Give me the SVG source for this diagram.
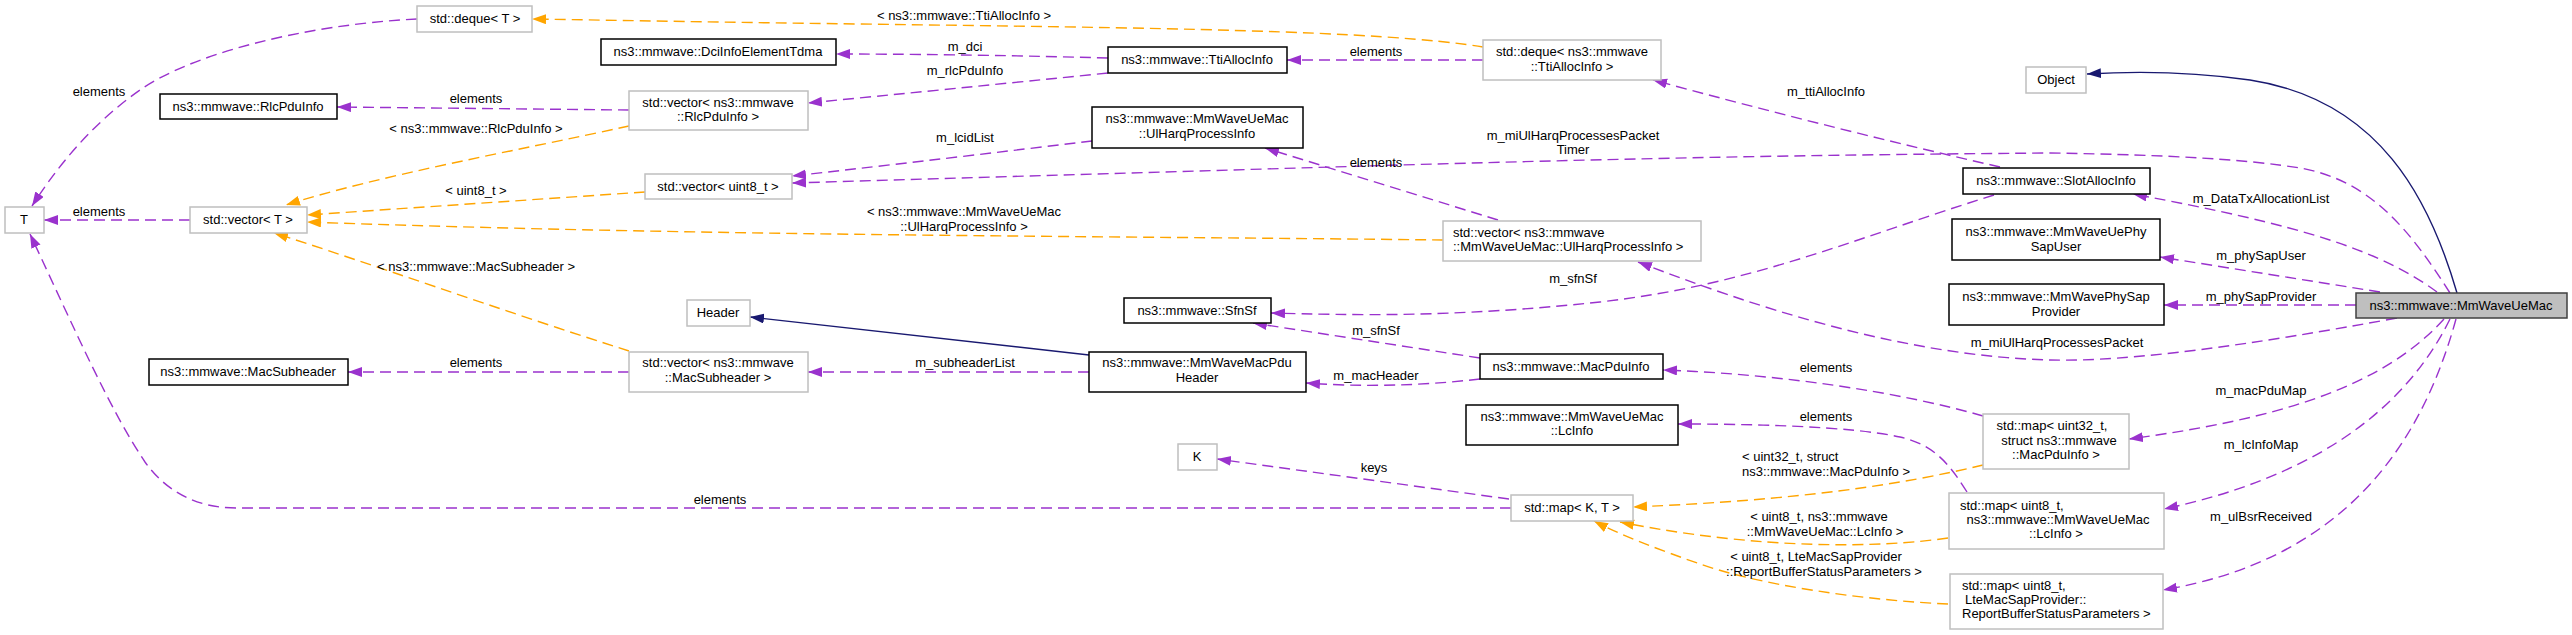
<svg xmlns="http://www.w3.org/2000/svg" width="2572" height="635" viewBox="0 0 2572 635">
<style>
text{font-family:"Liberation Sans",Arial,sans-serif;font-size:13px;fill:#000}
.n text{text-anchor:middle}
.b{fill:#fff;stroke:#000;stroke-width:1.5}
.g{fill:#fff;stroke:#bfbfbf;stroke-width:1.5}
.m{fill:#bfbfbf;stroke:#404040;stroke-width:1.5}
.p{fill:none;stroke:#9a32cd;stroke-width:1.4;stroke-dasharray:11,6;marker-end:url(#ap)}
.o{fill:none;stroke:#ffa500;stroke-width:1.4;stroke-dasharray:11,6;marker-end:url(#ao)}
.s{fill:none;stroke:#191970;stroke-width:1.4;marker-end:url(#as)}
.l text{text-anchor:middle}
</style>
<defs>
<marker id="ap" markerUnits="userSpaceOnUse" markerWidth="15" markerHeight="11" refX="14" refY="5" orient="auto"><path d="M0,0 L14,5 L0,10 z" fill="#9a32cd"/></marker>
<marker id="ao" markerUnits="userSpaceOnUse" markerWidth="15" markerHeight="11" refX="14" refY="5" orient="auto"><path d="M0,0 L14,5 L0,10 z" fill="#ffa500"/></marker>
<marker id="as" markerUnits="userSpaceOnUse" markerWidth="15" markerHeight="11" refX="14" refY="5" orient="auto"><path d="M0,0 L14,5 L0,10 z" fill="#191970"/></marker>
</defs>
<rect width="2572" height="635" fill="#fff"/>
<g id="connectors">
<path class="p" d="M417,19 C300,25 190,55 140,90 C90,125 55,170 32,206"/>
<path class="p" d="M190,220 L44,220"/>
<path class="p" d="M1511,508 L236,508 C195,508 165,490 145,462 C110,410 75,330 30,234"/>
<path class="p" d="M1509,499 L1217,459"/>
<path class="p" d="M629,110 L337,107"/>
<path class="o" d="M629,126 C520,150 380,175 286,205"/>
<path class="o" d="M645,192 L307,215"/>
<path class="o" d="M1443,240 C1100,236 700,236 307,222"/>
<path class="o" d="M629,351 C500,310 360,260 274,233"/>
<path class="p" d="M629,372 L348,372"/>
<path class="o" d="M1483,47 C1380,30 1150,28 860,24 C700,22 600,20 532,19"/>
<path class="p" d="M1483,60 L1287,60"/>
<path class="p" d="M1108,58 C1000,55 900,54 836,54"/>
<path class="p" d="M1108,73 C1000,84 900,94 808,103"/>
<path class="p" d="M1092,141 C1000,152 900,164 792,176"/>
<path class="p" d="M2450,293 C2410,230 2370,180 2300,168 C2250,160 2180,155 2050,153 C1800,155 1650,158 1400,165 L792,183"/>
<path class="p" d="M1498,220 L1265,148"/>
<path class="p" d="M2000,167 Q1830,128 1653,80"/>
<path class="p" d="M2437,292 C2380,250 2300,225 2133,194"/>
<path class="p" d="M1994,195 C1850,240 1750,285 1600,302 C1450,318 1350,315 1271,313"/>
<path class="p" d="M2380,292 L2160,257"/>
<path class="p" d="M2356,305 L2164,305"/>
<path class="p" d="M2397,318 C2250,345 2130,362 2050,360 C1900,356 1750,305 1638,262"/>
<path class="p" d="M1480,358 L1253,323"/>
<path class="p" d="M1480,379 C1420,386 1360,387 1306,383"/>
<path class="s" d="M1089,355 L750,317"/>
<path class="p" d="M1089,372 L808,372"/>
<path class="p" d="M1983,416 C1900,392 1780,374 1663,370"/>
<path class="p" d="M1967,492 C1950,465 1935,445 1900,437 C1850,426 1750,424 1678,424"/>
<path class="o" d="M1983,465 C1900,485 1800,500 1633,507"/>
<path class="o" d="M1948,538 C1880,548 1760,550 1620,522"/>
<path class="o" d="M1948,604 C1860,600 1760,585 1700,564 C1660,550 1620,535 1594,521"/>
<path class="p" d="M2444,319 C2380,390 2270,420 2129,439"/>
<path class="p" d="M2450,319 C2400,420 2300,480 2164,509"/>
<path class="p" d="M2456,319 C2420,450 2340,560 2163,590"/>
<path class="s" d="M2457,293 C2430,200 2380,100 2250,80 C2180,70 2120,72 2087,74"/>
<g class="l">
<text x="99" y="96">elements</text>
<text x="99" y="216">elements</text>
<text x="720" y="504">elements</text>
<text x="1374" y="472">keys</text>
<text x="476" y="103">elements</text>
<text x="476" y="133">&lt; ns3::mmwave::RlcPduInfo &gt;</text>
<text x="476" y="195">&lt; uint8_t &gt;</text>
<text x="964" y="216">&lt; ns3::mmwave::MmWaveUeMac</text>
<text x="964" y="231">::UlHarqProcessInfo &gt;</text>
<text x="476" y="271">&lt; ns3::mmwave::MacSubheader &gt;</text>
<text x="476" y="367">elements</text>
<text x="964" y="20">&lt; ns3::mmwave::TtiAllocInfo &gt;</text>
<text x="1376" y="56">elements</text>
<text x="965" y="51">m_dci</text>
<text x="965" y="75">m_rlcPduInfo</text>
<text x="965" y="142">m_lcidList</text>
<text x="1573" y="140">m_miUlHarqProcessesPacket</text>
<text x="1573" y="154">Timer</text>
<text x="1376" y="167">elements</text>
<text x="1826" y="96">m_ttiAllocInfo</text>
<text x="2261" y="203">m_DataTxAllocationList</text>
<text x="1573" y="283">m_sfnSf</text>
<text x="2261" y="260">m_phySapUser</text>
<text x="2261" y="301">m_phySapProvider</text>
<text x="2057" y="347">m_miUlHarqProcessesPacket</text>
<text x="1376" y="335">m_sfnSf</text>
<text x="1376" y="380">m_macHeader</text>
<text x="965" y="367">m_subheaderList</text>
<text x="1826" y="372">elements</text>
<text x="1826" y="421">elements</text>
<text x="1742" y="461" style="text-anchor:start">&lt; uint32_t, struct</text>
<text x="1742" y="476" style="text-anchor:start">ns3::mmwave::MacPduInfo &gt;</text>
<text x="1819" y="521">&lt; uint8_t, ns3::mmwave</text>
<text x="1825" y="536">::MmWaveUeMac::LcInfo &gt;</text>
<text x="1816" y="561">&lt; uint8_t, LteMacSapProvider</text>
<text x="1824" y="576">::ReportBufferStatusParameters &gt;</text>
<text x="2261" y="395">m_macPduMap</text>
<text x="2261" y="449">m_lcInfoMap</text>
<text x="2261" y="521">m_ulBsrReceived</text>
</g>
</g>
<g id="node_dequeT" class="n"><rect class="g" x="417" y="6" width="115" height="26"/><text x="475" y="23">std::deque&lt; T &gt;</text></g>
<g id="node_dci" class="n"><rect class="b" x="601" y="39" width="235" height="26"/><text x="718" y="56">ns3::mmwave::DciInfoElementTdma</text></g>
<g id="node_rlc" class="n"><rect class="b" x="160" y="94" width="177" height="25"/><text x="248" y="111">ns3::mmwave::RlcPduInfo</text></g>
<g id="node_vecRlc" class="n"><rect class="g" x="629" y="91" width="179" height="39"/><text x="718" y="107">std::vector&lt; ns3::mmwave</text><text x="718" y="121">::RlcPduInfo &gt;</text></g>
<g id="node_vecU8" class="n"><rect class="g" x="645" y="174" width="147" height="25"/><text x="718" y="191">std::vector&lt; uint8_t &gt;</text></g>
<g id="node_T" class="n"><rect class="g" x="5" y="207" width="39" height="26"/><text x="24" y="224">T</text></g>
<g id="node_vecT" class="n"><rect class="g" x="190" y="207" width="117" height="26"/><text x="248" y="224">std::vector&lt; T &gt;</text></g>
<g id="node_header" class="n"><rect class="g" x="687" y="300" width="63" height="26"/><text x="718" y="317">Header</text></g>
<g id="node_macsub" class="n"><rect class="b" x="149" y="359" width="199" height="26"/><text x="248" y="376">ns3::mmwave::MacSubheader</text></g>
<g id="node_vecMacSub" class="n"><rect class="g" x="629" y="352" width="179" height="40"/><text x="718" y="367">std::vector&lt; ns3::mmwave</text><text x="718" y="382">::MacSubheader &gt;</text></g>
<g id="node_tti" class="n"><rect class="b" x="1108" y="47" width="179" height="26"/><text x="1197" y="64">ns3::mmwave::TtiAllocInfo</text></g>
<g id="node_dequeTti" class="n"><rect class="g" x="1483" y="40" width="178" height="40"/><text x="1572" y="56">std::deque&lt; ns3::mmwave</text><text x="1572" y="71">::TtiAllocInfo &gt;</text></g>
<g id="node_ulharq" class="n"><rect class="b" x="1092" y="107" width="211" height="41"/><text x="1197" y="123">ns3::mmwave::MmWaveUeMac</text><text x="1197" y="138">::UlHarqProcessInfo</text></g>
<g id="node_vecUl" class="n"><rect class="g" x="1443" y="221" width="258" height="40"/><text x="1453" y="237" style="text-anchor:start">std::vector&lt; ns3::mmwave</text><text x="1453" y="251" style="text-anchor:start">::MmWaveUeMac::UlHarqProcessInfo &gt;</text></g>
<g id="node_sfnsf" class="n"><rect class="b" x="1124" y="298" width="147" height="25"/><text x="1197" y="315">ns3::mmwave::SfnSf</text></g>
<g id="node_pduheader" class="n"><rect class="b" x="1089" y="352" width="217" height="40"/><text x="1197" y="367">ns3::mmwave::MmWaveMacPdu</text><text x="1197" y="382">Header</text></g>
<g id="node_macpduinfo" class="n"><rect class="b" x="1480" y="354" width="183" height="25"/><text x="1571" y="371">ns3::mmwave::MacPduInfo</text></g>
<g id="node_lcinfo" class="n"><rect class="b" x="1466" y="405" width="212" height="40"/><text x="1572" y="421">ns3::mmwave::MmWaveUeMac</text><text x="1572" y="435">::LcInfo</text></g>
<g id="node_K" class="n"><rect class="g" x="1178" y="444" width="39" height="26"/><text x="1197" y="461">K</text></g>
<g id="node_mapKT" class="n"><rect class="g" x="1511" y="495" width="122" height="26"/><text x="1572" y="512">std::map&lt; K, T &gt;</text></g>
<g id="node_object" class="n"><rect class="g" x="2026" y="67" width="60" height="26"/><text x="2056" y="84">Object</text></g>
<g id="node_slot" class="n"><rect class="b" x="1963" y="168" width="187" height="26"/><text x="2056" y="185">ns3::mmwave::SlotAllocInfo</text></g>
<g id="node_phyuser" class="n"><rect class="b" x="1952" y="219" width="208" height="41"/><text x="2056" y="236">ns3::mmwave::MmWaveUePhy</text><text x="2056" y="251">SapUser</text></g>
<g id="node_phyprov" class="n"><rect class="b" x="1949" y="284" width="215" height="41"/><text x="2056" y="301">ns3::mmwave::MmWavePhySap</text><text x="2056" y="316">Provider</text></g>
<g id="node_main" class="n"><rect class="m" x="2356" y="293" width="211" height="25"/><text x="2461" y="310">ns3::mmwave::MmWaveUeMac</text></g>
<g id="node_map32" class="n"><rect class="g" x="1983" y="414" width="146" height="55"/><text x="2052" y="430">std::map&lt; uint32_t,</text><text x="2059" y="445">struct ns3::mmwave</text><text x="2056" y="459">::MacPduInfo &gt;</text></g>
<g id="node_mapLc" class="n"><rect class="g" x="1949" y="493" width="215" height="56"/><text x="1960" y="510" style="text-anchor:start">std::map&lt; uint8_t,</text><text x="2058" y="524">ns3::mmwave::MmWaveUeMac</text><text x="2056" y="538">::LcInfo &gt;</text></g>
<g id="node_mapRep" class="n"><rect class="g" x="1950" y="574" width="213" height="55"/><text x="1962" y="590" style="text-anchor:start">std::map&lt; uint8_t,</text><text x="1965" y="604" style="text-anchor:start">LteMacSapProvider::</text><text x="1962" y="618" style="text-anchor:start">ReportBufferStatusParameters &gt;</text></g>
</svg>
